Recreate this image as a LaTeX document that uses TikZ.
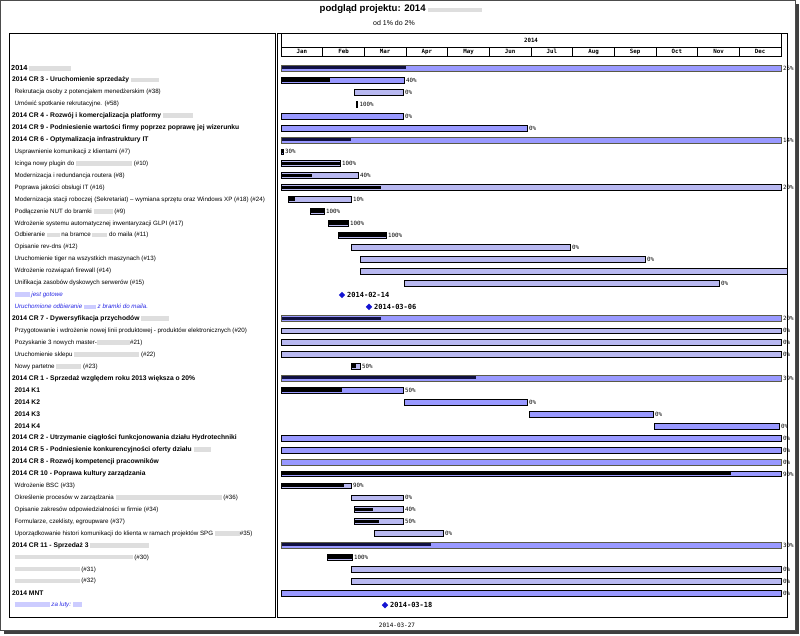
\documentclass[tikz,border=0pt]{standalone}
\usepackage{fontspec}
\setmainfont{Liberation Sans}
\newfontfamily\monof{DejaVu Sans Mono}
\definecolor{barblue}{RGB}{153,153,255}
\definecolor{hatchblue}{RGB}{184,184,240}
\definecolor{navyprog}{RGB}{16,16,64}
\definecolor{sumedgec}{RGB}{90,90,70}
\definecolor{msblue}{RGB}{20,20,210}
\definecolor{linkblue}{RGB}{40,40,230}
\newcommand\blr[1]{{\color{black!13}\rule[-0.4pt]{#1pt}{4.8pt}}}
\newcommand\blb[1]{{\color{blue!20}\rule[-0.4pt]{#1pt}{4.8pt}}}
\tikzset{
 lbl/.style={anchor=west,inner sep=0pt,font=\fontsize{6.2}{7}\selectfont},
 lblb/.style={anchor=west,inner sep=0pt,font=\fontsize{6.7}{8}\selectfont\bfseries},
 lblm/.style={anchor=west,inner sep=0pt,font=\fontsize{6.2}{7}\selectfont\itshape,text=linkblue},
 pct/.style={anchor=west,inner sep=0pt,font=\monof\fontsize{5.8}{7}\selectfont},
 mslab/.style={anchor=west,inner sep=0pt,font=\monof\bfseries\fontsize{7}{8}\selectfont},
 hdr/.style={inner sep=0pt,font=\monof\bfseries\fontsize{5.8}{7}\selectfont},
 taskedge/.style={draw=black,line width=0.8pt},
 sumedge/.style={draw=sumedgec,line width=0.8pt},
 frameline/.style={draw=black,line width=0.6pt},
}
\newcommand\GTask[7]{%
 \fill[#2] (#4,#3-2.9) rectangle (#5,#3+2.9);
 \fill[black] (#4,#3-2.1) rectangle (#6,#3+1.3);
 \draw[taskedge] (#4,#3-2.9) rectangle (#5,#3+2.9);
 \node[pct] (#1) at (#5+2,#3) {#7};
}
\newcommand\GSum[6]{%
 \fill[barblue] (#3,#2-3) rectangle (#4,#2+3);
 \fill[navyprog] (#3,#2-2.2) rectangle (#5,#2+0.8);
 \draw[sumedge] (#3,#2-3) rectangle (#4,#2+3);
 \node[pct] (#1) at (#4+2,#2) {#6};
}
\newcommand\GMile[4]{%
 \fill[msblue] (#3,#2-3.2) -- (#3+3.2,#2) -- (#3,#2+3.2) -- (#3-3.2,#2) -- cycle;
 \node[mslab] (#1) at (#3+5,#2) {#4};
}
\begin{document}
\begin{tikzpicture}[x=1pt,y=-1pt]
\useasboundingbox (0,0) rectangle (800,635);
% page frame with shadow
\fill[black!75] (4,4) rectangle (798.5,633.5);
\filldraw[fill=white,draw=black!70,line width=0.6pt] (0.5,0.5) rectangle (795,630);
% title
\node[inner sep=0pt,font=\fontsize{9.6}{11}\selectfont\bfseries] (title) at (401,9.5) {podgląd projektu: 2014 \blr{54}};
\node[inner sep=0pt,font=\fontsize{7}{9}\selectfont] (sub) at (394,23) {od 1\% do 2\%};
% panels
\draw[frameline] (9,33) rectangle (275,617);
\draw[frameline] (277.5,33) rectangle (787,617);
% header
\draw[frameline] (281,33) rectangle (781,56);
\draw[frameline] (281,47) -- (781,47);
\foreach \k in {1,...,11} { \draw[frameline] ({281+\k*500/12},47) -- ({281+\k*500/12},56); }
\node[hdr] (yr) at (531,40.5) {2014};
\foreach \m [count=\k from 0] in {Jan,Feb,Mar,Apr,May,Jun,Jul,Aug,Sep,Oct,Nov,Dec} {
  \node[hdr] (m\k) at ({281+(\k+0.5)*500/12},51.8) {\m};
}
% labels
\node[anchor=west,inner sep=0pt,font=\fontsize{7.3}{9}\selectfont\bfseries] (t1) at (11,68.3) {2014 \blr{42}};
\node[lblb] (t2) at (12,80.2) {2014 CR 3 - Uruchomienie sprzedaży \blr{28}};
\node[lbl] (t3) at (14.5,92.2) {Rekrutacja osoby z potencjałem menedżerskim (\#38)};
\node[lbl] (t4) at (14.5,104.1) {Umówić spotkanie rekrutacyjne. (\#58)};
\node[lblb] (t5) at (12,116.0) {2014 CR 4 - Rozwój i komercjalizacja platformy \blr{30}};
\node[lblb] (t6) at (12,128.0) {2014 CR 9 - Podniesienie wartości firmy poprzez poprawę jej wizerunku};
\node[lblb] (t7) at (12,139.9) {2014 CR 6 - Optymalizacja infrastruktury IT};
\node[lbl] (t8) at (14.5,151.8) {Usprawnienie komunikacji z klientami (\#7)};
\node[lbl] (t9) at (14.5,163.7) {Icinga nowy plugin do \blr{56} (\#10)};
\node[lbl] (t10) at (14.5,175.7) {Modernizacja i redundancja routera (\#8)};
\node[lbl] (t11) at (14.5,187.6) {Poprawa jakości obsługi IT (\#16)};
\node[lbl] (t12) at (14.5,199.5) {Modernizacja stacji roboczej (Sekretariat) – wymiana sprzętu oraz Windows XP (\#18) (\#24)};
\node[lbl] (t13) at (14.5,211.5) {Podłączenie NUT do bramki \blr{19} (\#9)};
\node[lbl] (t14) at (14.5,223.4) {Wdrożenie systemu automatycznej inwentaryzacji GLPI (\#17)};
\node[lbl] (t15) at (14.5,235.3) {Odbieranie \blr{13} na bramce \blr{15} do maila (\#11)};
\node[lbl] (t16) at (14.5,247.3) {Opisanie rev-dns (\#12)};
\node[lbl] (t17) at (14.5,259.2) {Uruchomienie tiger na wszystkich maszynach (\#13)};
\node[lbl] (t18) at (14.5,271.1) {Wdrożenie rozwiązań firewall (\#14)};
\node[lbl] (t19) at (14.5,283.0) {Unifikacja zasobów dyskowych serwerów (\#15)};
\node[lblm] (t20) at (14.5,295.0) {\blb{15} jest gotowe};
\node[lblm] (t21) at (14.5,306.9) {Uruchomione odbieranie \blb{12} z bramki do maila.};
\node[lblb] (t22) at (12,318.8) {2014 CR 7 - Dywersyfikacja przychodów \blr{28}};
\node[lbl] (t23) at (14.5,330.8) {Przygotowanie i wdrożenie nowej linii produktowej - produktów elektronicznych (\#20)};
\node[lbl] (t24) at (14.5,342.7) {Pozyskanie 3 nowych master-\blr{33}\#21)};
\node[lbl] (t25) at (14.5,354.6) {Uruchomienie sklepu \blr{65} (\#22)};
\node[lbl] (t26) at (14.5,366.5) {Nowy partetne \blr{25} (\#23)};
\node[lblb] (t27) at (12,378.5) {2014 CR 1 - Sprzedaż względem roku 2013 większa o 20\%};
\node[lblb] (t28) at (14.5,390.4) {2014 K1};
\node[lblb] (t29) at (14.5,402.3) {2014 K2};
\node[lblb] (t30) at (14.5,414.3) {2014 K3};
\node[lblb] (t31) at (14.5,426.2) {2014 K4};
\node[lblb] (t32) at (12,438.1) {2014 CR 2 - Utrzymanie ciągłości funkcjonowania działu Hydrotechniki};
\node[lblb] (t33) at (12,450.1) {2014 CR 5 - Podniesienie konkurencyjności oferty działu \blr{17}};
\node[lblb] (t34) at (12,462.0) {2014 CR 8 - Rozwój kompetencji pracowników};
\node[lblb] (t35) at (12,473.9) {2014 CR 10 - Poprawa kultury zarządzania};
\node[lbl] (t36) at (14.5,485.8) {Wdrożenie BSC (\#33)};
\node[lbl] (t37) at (14.5,497.8) {Określenie procesów w zarządzania \blr{106} (\#36)};
\node[lbl] (t38) at (14.5,509.7) {Opisanie zakresów odpowiedzialności w firmie (\#34)};
\node[lbl] (t39) at (14.5,521.6) {Formularze, czeklisty, egroupware (\#37)};
\node[lbl] (t40) at (14.5,533.6) {Uporządkowanie histori komunikacji do klienta w ramach projektów SPG \blr{25}\#35)};
\node[lblb] (t41) at (12,545.5) {2014 CR 11 - Sprzedaż 3 \blr{59}};
\node[lbl] (t42) at (14.5,557.4) {\blr{118} (\#30)};
\node[lbl] (t43) at (14.5,569.4) {\blr{65} (\#31)};
\node[lbl] (t44) at (14.5,581.3) {\blr{65} (\#32)};
\node[lblb] (t45) at (12,593.2) {2014 MNT};
\node[lblm] (t46) at (14.5,605.1) {\blb{35} za luty: \blb{9}};
% bars
\GSum{b1}{68.3}{281}{781}{406}{25\%}
\GTask{b2}{barblue}{80.2}{281}{404}{330}{40\%}
\GTask{b3}{hatchblue}{92.2}{354}{403}{354}{0\%}
\GTask{b4}{barblue}{104.1}{356}{357.5}{357.5}{100\%}
\GTask{b5}{barblue}{116.0}{281}{403}{281}{0\%}
\GTask{b6}{barblue}{128.0}{281}{527}{281}{0\%}
\GSum{b7}{139.9}{281}{781}{351}{14\%}
\GTask{b8}{barblue}{151.8}{281}{283}{283}{30\%}
\GTask{b9}{hatchblue}{163.7}{281}{340}{340}{100\%}
\GTask{b10}{hatchblue}{175.7}{281}{358}{312}{40\%}
\GTask{b11}{hatchblue}{187.6}{281}{781}{381}{20\%}
\GTask{b12}{hatchblue}{199.5}{288}{351}{295}{10\%}
\GTask{b13}{hatchblue}{211.5}{310}{324}{324}{100\%}
\GTask{b14}{hatchblue}{223.4}{328}{348}{348}{100\%}
\GTask{b15}{hatchblue}{235.3}{338}{386}{386}{100\%}
\GTask{b16}{hatchblue}{247.3}{351}{570}{351}{0\%}
\GTask{b17}{hatchblue}{259.2}{360}{645}{360}{0\%}
\GTask{b18}{hatchblue}{271.1}{360}{787}{360}{}
\GTask{b19}{hatchblue}{283.0}{404}{719}{404}{0\%}
\GMile{b20}{295.0}{342}{2014-02-14}
\GMile{b21}{306.9}{369}{2014-03-06}
\GSum{b22}{318.8}{281}{781}{381}{20\%}
\GTask{b23}{hatchblue}{330.8}{281}{781}{281}{0\%}
\GTask{b24}{hatchblue}{342.7}{281}{781}{281}{0\%}
\GTask{b25}{hatchblue}{354.6}{281}{781}{281}{0\%}
\GTask{b26}{hatchblue}{366.5}{351}{360}{356}{50\%}
\GSum{b27}{378.5}{281}{781}{476}{39\%}
\GTask{b28}{barblue}{390.4}{281}{403}{342}{50\%}
\GTask{b29}{barblue}{402.3}{404}{527}{404}{0\%}
\GTask{b30}{barblue}{414.3}{529}{653}{529}{0\%}
\GTask{b31}{barblue}{426.2}{654}{779}{654}{0\%}
\GTask{b32}{barblue}{438.1}{281}{781}{281}{0\%}
\GTask{b33}{barblue}{450.1}{281}{781}{281}{0\%}
\GSum{b34}{462.0}{281}{781}{281}{0\%}
\GTask{b35}{barblue}{473.9}{281}{781}{731}{90\%}
\GTask{b36}{hatchblue}{485.8}{281}{351}{344}{90\%}
\GTask{b37}{hatchblue}{497.8}{351}{403}{351}{0\%}
\GTask{b38}{hatchblue}{509.7}{354}{403}{373}{40\%}
\GTask{b39}{hatchblue}{521.6}{354}{403}{379}{50\%}
\GTask{b40}{hatchblue}{533.6}{374}{443}{374}{0\%}
\GSum{b41}{545.5}{281}{781}{431}{30\%}
\GTask{b42}{hatchblue}{557.4}{327}{352}{352}{100\%}
\GTask{b43}{hatchblue}{569.4}{351}{781}{351}{0\%}
\GTask{b44}{hatchblue}{581.3}{351}{781}{351}{0\%}
\GTask{b45}{barblue}{593.2}{281}{781}{281}{0\%}
\GMile{b46}{605.1}{385}{2014-03-18}
% right border over labels
\draw[frameline] (787,33) -- (787,617);
% footer
\node[inner sep=0pt,font=\monof\fontsize{6}{7}\selectfont] (dt) at (397,625.5) {2014-03-27};
\end{tikzpicture}
\end{document}
